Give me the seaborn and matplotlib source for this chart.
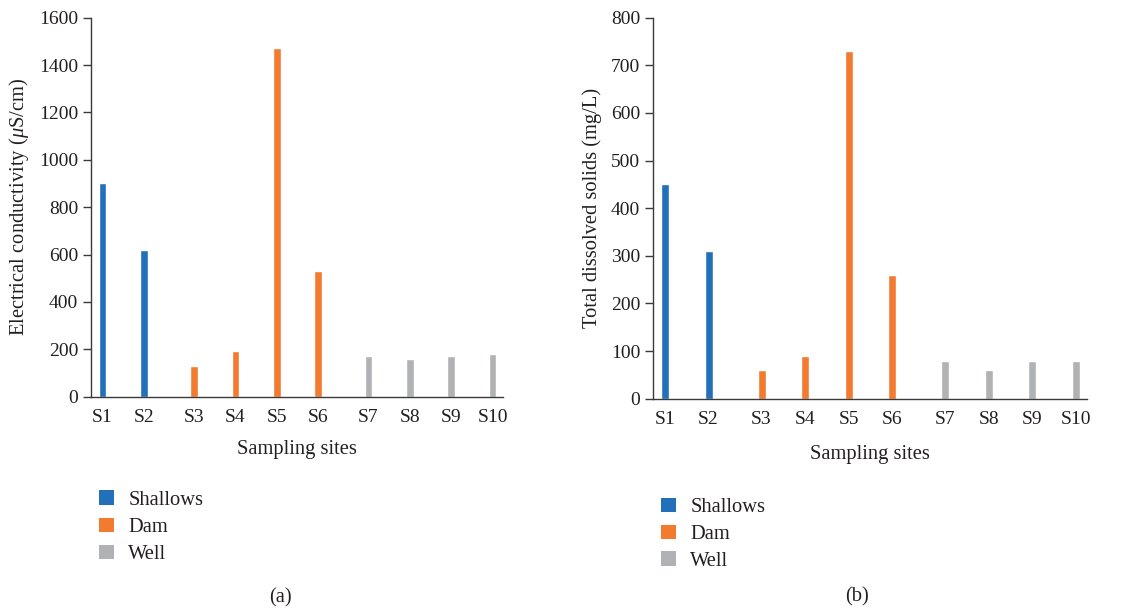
import matplotlib
matplotlib.use("Agg")
import matplotlib.pyplot as plt
import seaborn as sns
import pandas as pd
from matplotlib.patches import Patch

# Sampling sites, their water source, and the measured parameters
sites = ["S1", "S2", "S3", "S4", "S5", "S6", "S7", "S8", "S9", "S10"]
sources = ["Shallows", "Shallows", "Dam", "Dam", "Dam", "Dam",
           "Well", "Well", "Well", "Well"]
source_order = ["Shallows", "Dam", "Well"]
conductivity = [900, 620, 130, 192, 1470, 530, 172, 160, 172, 180]   # uS/cm
dissolved_solids = [450, 310, 60, 89, 730, 260, 80, 60, 80, 80]     # mg/L

palette = {"Shallows": "#2270BA", "Dam": "#F37B30", "Well": "#B1B2B6"}
text_color = "#231F20"

df = pd.DataFrame({"site": sites, "source": sources,
                   "ec": conductivity, "tds": dissolved_solids})

sns.set_theme(style="white")
plt.rcParams["font.family"] = ["Liberation Serif", "DejaVu Serif"]
plt.rcParams["mathtext.fontset"] = "custom"
plt.rcParams["mathtext.it"] = "Liberation Serif:italic"
plt.rcParams["mathtext.rm"] = "Liberation Serif"
plt.rcParams["text.color"] = text_color
plt.rcParams["axes.labelcolor"] = text_color
plt.rcParams["xtick.color"] = text_color
plt.rcParams["ytick.color"] = text_color

fig = plt.figure(figsize=(11.38, 6.10), dpi=100)
ax_a = fig.add_axes([0.0797, 0.3497, 0.3623, 0.6213])
ax_b = fig.add_axes([0.5735, 0.3464, 0.3816, 0.6246])

label_size = 14.8
tick_size = 14

panels = [
    (ax_a, "ec", r"Electrical conductivity ($\mu$S/cm)", 1600, 200, "(a)",
     (0.0797 + 0.0005, 0.210), (0.246, 0.004), 0.39, 10),
    (ax_b, "tds", "Total dissolved solids (mg/L)", 800, 100, "(b)",
     (0.5735 + 0.0005, 0.197), (0.753, 0.006), 0.35, 12),
]

for ax, col, ylabel, ymax, step, tag, leg_pos, tag_pos, spacing, xpad in panels:
    sns.barplot(data=df, x="site", y=col, hue="source", hue_order=source_order,
                order=sites, palette=palette, width=0.65, gap=0.15, dodge=True,
                saturation=1, legend=False, ax=ax)

    # put each site label under its own bar
    centers = sorted(p.get_x() + p.get_width() / 2 for p in ax.patches
                     if p.get_height() > 0)
    ax.set_xticks(centers)
    ax.set_xticklabels(sites)
    ax.set_xlim(-0.5, 9.47)
    ax.set_ylim(0, ymax)
    ax.set_yticks(range(0, ymax + 1, step))

    for side in ("top", "right"):
        ax.spines[side].set_visible(False)
    for side in ("left", "bottom"):
        ax.spines[side].set_color("#3a3a3a")
        ax.spines[side].set_linewidth(1.0)

    ax.tick_params(axis="y", which="major", direction="out", length=6,
                   width=1.0, color="#3a3a3a", labelsize=tick_size, pad=3,
                   left=True)
    ax.tick_params(axis="x", length=0, labelsize=tick_size, pad=9)

    ax.set_xlabel("Sampling sites", fontsize=label_size, labelpad=xpad)
    ax.set_ylabel(ylabel, fontsize=label_size, labelpad=6)

    handles = [Patch(facecolor=palette[s], edgecolor="none", label=s)
               for s in source_order]
    fig.legend(handles=handles, loc="upper left", bbox_to_anchor=leg_pos,
               frameon=False, fontsize=label_size, handlelength=0.7,
               handleheight=0.7, handletextpad=0.7, labelspacing=spacing,
               borderaxespad=0)
    fig.text(tag_pos[0], tag_pos[1], tag, fontsize=label_size, ha="center",
             va="bottom")

fig.savefig("out.png", dpi=100, facecolor="white")
